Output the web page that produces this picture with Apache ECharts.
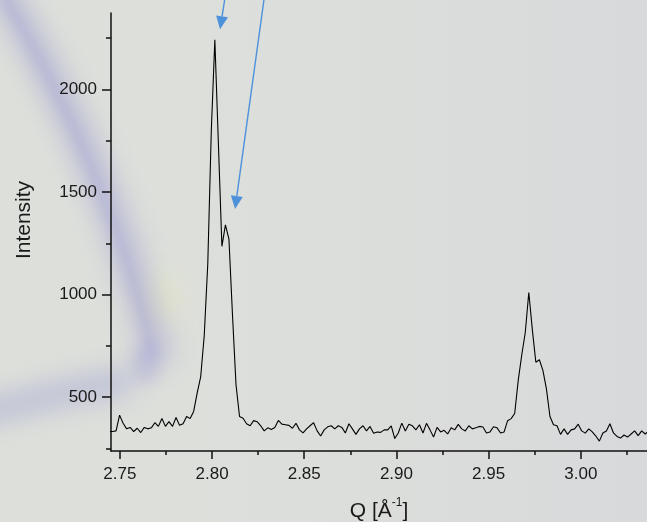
<!DOCTYPE html>
<html><head><meta charset="utf-8">
<script src="https://cdn.jsdelivr.net/npm/echarts@6/dist/echarts.min.js"></script>
<style>html,body{margin:0;padding:0;background:#dcdedb;}#c{width:647px;height:522px;}</style>
</head><body><div id="c"></div>
<script>
// Q values [Å^-1]
const qValues = [
  2.74412,2.74603,2.74795,2.74986,2.75177,2.75369,2.75560,2.75751,2.75943,2.76134,
  2.76325,2.76516,2.76708,2.76899,2.77090,2.77282,2.77473,2.77664,2.77856,2.78047,
  2.78238,2.78429,2.78621,2.78812,2.79003,2.79195,2.79386,2.79577,2.79769,2.79960,
  2.80152,2.80343,2.80535,2.80726,2.80917,2.81109,2.81300,2.81491,2.81683,2.81874,
  2.82065,2.82256,2.82448,2.82639,2.82830,2.83022,2.83213,2.83404,2.83596,2.83787,
  2.83978,2.84169,2.84361,2.84552,2.84743,2.84935,2.85126,2.85317,2.85509,2.85700,
  2.85891,2.86082,2.86274,2.86465,2.86656,2.86848,2.87039,2.87230,2.87422,2.87613,
  2.87804,2.87995,2.88187,2.88378,2.88569,2.88761,2.88952,2.89143,2.89335,2.89526,
  2.89718,2.89909,2.90101,2.90292,2.90483,2.90675,2.90866,2.91057,2.91249,2.91440,
  2.91631,2.91822,2.92014,2.92205,2.92396,2.92588,2.92779,2.92970,2.93162,2.93353,
  2.93544,2.93735,2.93927,2.94118,2.94309,2.94501,2.94692,2.94883,2.95075,2.95266,
  2.95457,2.95648,2.95840,2.96031,2.96222,2.96414,2.96605,2.96796,2.96988,2.97179,
  2.97370,2.97561,2.97753,2.97944,2.98135,2.98327,2.98518,2.98709,2.98901,2.99092,
  2.99284,2.99475,2.99667,2.99858,3.00049,3.00241,3.00432,3.00623,3.00815,3.01006,
  3.01197,3.01388,3.01580,3.01771,3.01962,3.02154,3.02345,3.02536,3.02728,3.02919,
  3.03110,3.03301,3.03493,3.03684
];
// Intensity values
const intensity = [
  332,332,335,412,372,345,352,332,348,327,
  352,345,350,375,357,395,357,380,357,400,
  362,370,405,395,430,520,600,800,1150,1800,
  2243,1740,1235,1340,1270,900,560,405,397,370,
  360,385,380,360,335,350,342,352,386,368,
  365,362,348,372,340,325,345,360,375,335,
  310,340,355,360,345,360,352,325,370,345,
  318,345,360,335,357,324,330,328,340,340,
  360,298,325,373,335,368,360,340,365,325,
  372,340,305,352,330,338,320,350,340,367,
  345,335,360,345,350,357,354,325,330,355,
  350,325,330,385,395,420,580,705,815,1010,
  830,670,682,630,540,405,365,360,318,345,
  318,340,345,368,335,324,345,330,310,285,
  325,335,370,325,308,300,315,305,320,335,
  312,335,320,335
];
const xMajorTicks = [2.75, 2.80, 2.85, 2.90, 2.95, 3.00];
const xMinorTicks = [2.775, 2.825, 2.875, 2.925, 2.975, 3.025];
const yMajorTicks = [500, 1000, 1500, 2000];
const yMinorTicks = [250, 750, 1250, 1750, 2250];
// annotation arrows (data coords): start -> tip
const arrowFrom = [[2.80689, 2440], [2.82820, 2440]];
const arrowTo   = [[2.80434, 2294], [2.81247, 1417]];

const X_MIN = 2.7452, X_MAX = 3.0359, Y_MIN = 237, Y_MAX = 2373;
const FONT = 'Liberation Sans, Arial, sans-serif';
const AX = '#111';
const TXT = '#1a1a1a';

const chart = echarts.init(document.getElementById('c'), null, {renderer: 'canvas'});
const lineData = qValues.map((q, i) => [q, intensity[i]]);

// soft smudges: shapes drawn off-canvas, only their blurred shadow lands on the canvas
const OFF = 2000;
function softCurve(id, x1, y1, cx, cy, x2, y2, w, blur, color, z) {
  return {type: 'bezierCurve', id: id, z: z, silent: true,
    shape: {x1: x1 + OFF, y1: y1, cpx1: cx + OFF, cpy1: cy, x2: x2 + OFF, y2: y2},
    style: {stroke: '#000', lineWidth: w, fill: null, lineCap: 'round',
      shadowBlur: blur, shadowColor: color, shadowOffsetX: -OFF, shadowOffsetY: 0}};
}
function softBlob(id, cx, cy, rx, ry, blur, color, z) {
  return {type: 'ellipse', id: id, z: z, silent: true,
    shape: {cx: cx + OFF, cy: cy, rx: rx, ry: ry},
    style: {fill: '#000', shadowBlur: blur, shadowColor: color, shadowOffsetX: -OFF, shadowOffsetY: 0}};
}
const bgGraphics = [
  {type: 'rect', id: 'bg', z: -100, silent: true, shape: {x: 0, y: 0, width: 647, height: 522},
   style: {fill: new echarts.graphic.LinearGradient(0, 0, 1, 0, [
     {offset: 0, color: '#dde0da'}, {offset: 0.5, color: '#dcdedb'}, {offset: 1, color: '#d8d9db'}])}},
  softBlob('glow', 160, 300, 16, 30, 30, 'rgba(235,238,185,0.55)', -96),
  softCurve('s1', -4, -20, 110, 170, 156, 350, 30, 24, 'rgba(148,146,210,0.42)', -90),
  softCurve('s2', 6, 0, 110, 175, 152, 352, 10, 10, 'rgba(148,146,210,0.22)', -89),
  softBlob('blob', 146, 364, 14, 20, 16, 'rgba(148,146,210,0.32)', -89),
  softCurve('b1', -30, 416, 50, 395, 120, 382, 28, 24, 'rgba(148,146,210,0.38)', -90)
];

const option = {
  animation: false,
  backgroundColor: '#dcdedb',
  grid: {left: 111, top: 13, right: 0, bottom: 71, containLabel: false, outerBoundsMode: 'none'},
  xAxis: [{
    type: 'value', min: X_MIN, max: X_MAX, position: 'bottom',
    axisLine: {show: true, onZero: false, lineStyle: {color: AX, width: 1.5}},
    axisTick: {show: true, customValues: xMajorTicks, length: 8, lineStyle: {color: AX, width: 1.5}},
    axisLabel: {show: true, customValues: xMajorTicks, formatter: v => v.toFixed(2),
      fontSize: 17, color: TXT, fontFamily: FONT, margin: 15},
    splitLine: {show: false},
    name: '{a|Q [Å}{s|-1}{a|]}', nameLocation: 'middle', nameGap: 46,
    nameTextStyle: {fontFamily: FONT, color: TXT,
      rich: {a: {fontSize: 21, fontFamily: FONT, color: TXT, lineHeight: 25, verticalAlign: 'bottom'},
             s: {fontSize: 12, fontFamily: FONT, color: TXT, lineHeight: 25, verticalAlign: 'top'}}}
  }, {
    type: 'value', min: X_MIN, max: X_MAX, position: 'bottom',
    axisLine: {show: false, onZero: false},
    axisTick: {show: true, customValues: xMinorTicks, length: 4, lineStyle: {color: AX, width: 1.5}},
    axisLabel: {show: false}, splitLine: {show: false}
  }],
  yAxis: [{
    type: 'value', min: Y_MIN, max: Y_MAX, position: 'left',
    axisLine: {show: true, onZero: false, lineStyle: {color: AX, width: 1.5}},
    axisTick: {show: true, customValues: yMajorTicks, length: 9, lineStyle: {color: AX, width: 1.5}},
    axisLabel: {show: true, customValues: yMajorTicks, formatter: v => String(v),
      fontSize: 17, color: TXT, fontFamily: FONT, margin: 14},
    splitLine: {show: false},
    name: 'Intensity', nameLocation: 'middle', nameGap: 76, nameRotate: 90,
    nameTextStyle: {fontSize: 21, fontFamily: FONT, color: TXT, padding: [0, 0, 0, 24]}
  }, {
    type: 'value', min: Y_MIN, max: Y_MAX, position: 'left',
    axisLine: {show: false, onZero: false},
    axisTick: {show: true, customValues: yMinorTicks, length: 5, lineStyle: {color: AX, width: 1.5}},
    axisLabel: {show: false}, splitLine: {show: false}
  }],
  series: [{
    type: 'line', xAxisIndex: 0, yAxisIndex: 0, data: lineData,
    showSymbol: false, symbol: 'none', clip: true,
    lineStyle: {color: '#000', width: 1.1}
  }],
  graphic: bgGraphics
};
chart.setOption(option);

// arrows
const ARROW = '#4d91db';
const arrowGraphics = [];
for (let k = 0; k < arrowFrom.length; k++) {
  const p0 = chart.convertToPixel({gridIndex: 0}, arrowFrom[k]);
  const p1 = chart.convertToPixel({gridIndex: 0}, arrowTo[k]);
  const dx = p1[0] - p0[0], dy = p1[1] - p0[1];
  const len = Math.sqrt(dx * dx + dy * dy);
  const ux = dx / len, uy = dy / len;
  const headL = 13, headW = 6;
  const bx = p1[0] - ux * headL, by = p1[1] - uy * headL;
  arrowGraphics.push({type: 'line', id: 'al' + k, z: 50, silent: true,
    shape: {x1: p0[0], y1: p0[1], x2: bx, y2: by},
    style: {stroke: ARROW, lineWidth: 1.4}});
  arrowGraphics.push({type: 'polygon', id: 'ah' + k, z: 50, silent: true,
    shape: {points: [[p1[0], p1[1]], [bx - uy * headW, by + ux * headW], [bx + uy * headW, by - ux * headW]]},
    style: {fill: ARROW}});
}
chart.setOption({graphic: arrowGraphics});
</script>
</body></html>
